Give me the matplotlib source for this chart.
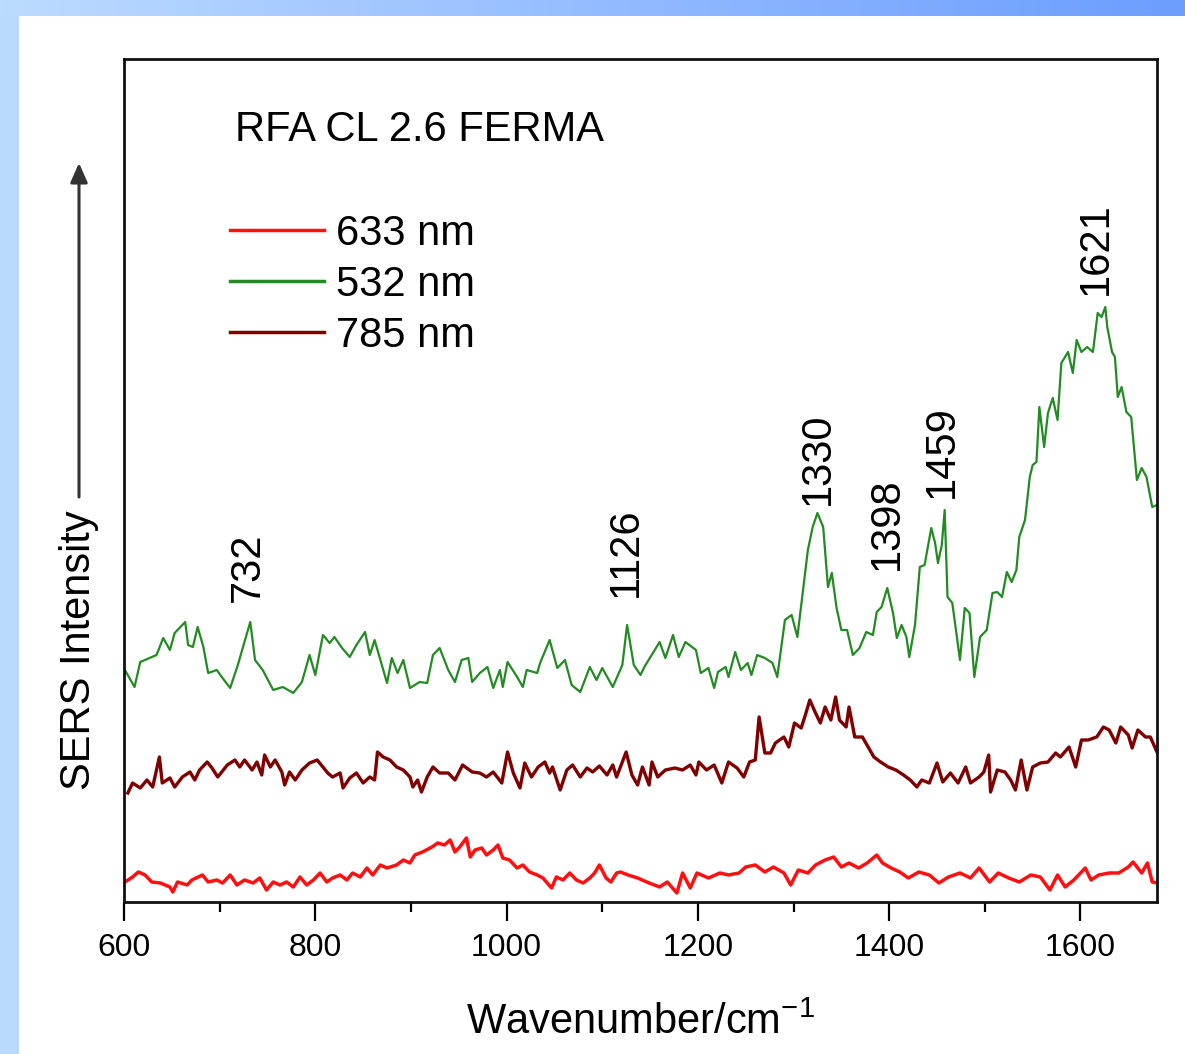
import numpy as np
import matplotlib
matplotlib.use("Agg")
import matplotlib.pyplot as plt
from matplotlib.patches import Rectangle, FancyArrowPatch

plt.rcParams['font.family'] = ['Liberation Sans', 'DejaVu Sans']
plt.rcParams['mathtext.fontset'] = 'custom'
plt.rcParams['mathtext.rm'] = 'Liberation Sans'
plt.rcParams['mathtext.it'] = 'Liberation Sans:italic'

# ---------------- data (arbitrary intensity units) ----
x_532 = [601, 611, 617, 634, 641, 648, 653, 664, 667, 672, 677, 683, 688, 697, 703, 711, 719, 732, 737, 745,
         756, 766, 777, 786, 794, 800, 808, 815, 820, 828, 836, 843, 852, 857, 862, 875, 880, 886, 892, 899,
         909, 917, 923, 930, 939, 946, 953, 960, 964, 972, 980, 986, 993, 996, 1001, 1011, 1017, 1021, 1032, 1035,
         1045, 1053, 1061, 1068, 1077, 1087, 1094, 1100, 1111, 1121, 1126, 1133, 1140, 1144, 1160, 1166, 1174, 1180, 1187, 1198,
         1203, 1211, 1217, 1221, 1229, 1232, 1239, 1245, 1252, 1256, 1262, 1270, 1278, 1283, 1291, 1298, 1304, 1310, 1315, 1320,
         1325, 1331, 1336, 1340, 1345, 1350, 1356, 1362, 1369, 1376, 1383, 1387, 1392, 1398, 1404, 1408, 1413, 1418, 1421, 1427,
         1432, 1437, 1444, 1448, 1451, 1455, 1458, 1461, 1466, 1474, 1479, 1484, 1489, 1495, 1502, 1508, 1513, 1518, 1523, 1528,
         1533, 1536, 1542, 1547, 1550, 1554, 1557, 1562, 1566, 1571, 1576, 1580, 1587, 1592, 1596, 1601, 1607, 1613, 1618, 1622,
         1626, 1628, 1633, 1636, 1639, 1643, 1648, 1653, 1659, 1664, 1669, 1675, 1680]
y_532 = [232, 215, 240, 247, 264, 252, 269, 280, 257, 255, 275, 255, 229, 232, 224, 214, 237, 280, 242, 232,
         212, 215, 209, 220, 247, 227, 267, 259, 265, 254, 245, 257, 270, 247, 262, 219, 244, 229, 242, 214,
         220, 219, 247, 254, 232, 220, 242, 244, 220, 229, 235, 214, 232, 215, 240, 225, 215, 232, 229, 239,
         262, 234, 242, 217, 210, 235, 222, 234, 215, 237, 277, 237, 227, 235, 260, 244, 267, 245, 260, 252,
         229, 234, 214, 230, 235, 225, 250, 232, 239, 227, 247, 244, 239, 225, 282, 287, 265, 312, 352, 375,
         389, 375, 315, 329, 294, 272, 272, 247, 254, 270, 267, 290, 295, 314, 289, 264, 277, 265, 245, 277,
         335, 337, 374, 359, 339, 357, 392, 305, 299, 242, 294, 289, 225, 265, 272, 309, 310, 305, 330, 320,
         332, 365, 382, 425, 437, 440, 495, 455, 489, 504, 482, 539, 550, 529, 562, 550, 555, 550, 589, 585,
         595, 575, 550, 545, 505, 515, 490, 485, 422, 434, 425, 395, 397]

x_785 = [604, 609, 617, 624, 630, 637, 640, 648, 653, 661, 669, 674, 679, 687, 692, 698, 708, 716, 721, 726,
         734, 739, 744, 747, 753, 758, 765, 768, 773, 779, 786, 794, 802, 808, 813, 818, 826, 829, 836, 843,
         850, 857, 862, 865, 871, 878, 885, 892, 899, 902, 907, 911, 917, 923, 930, 939, 946, 954, 964, 972,
         979, 986, 995, 1001, 1007, 1014, 1019, 1026, 1033, 1040, 1045, 1048, 1056, 1063, 1069, 1077, 1084, 1090, 1097, 1105,
         1111, 1115, 1125, 1131, 1137, 1142, 1149, 1152, 1158, 1166, 1176, 1184, 1192, 1198, 1201, 1209, 1217, 1225, 1232, 1241,
         1248, 1254, 1260, 1264, 1270, 1276, 1281, 1290, 1295, 1301, 1308, 1313, 1317, 1323, 1328, 1333, 1339, 1344, 1348, 1355,
         1358, 1364, 1372, 1378, 1384, 1391, 1399, 1407, 1415, 1422, 1429, 1434, 1442, 1450, 1456, 1464, 1472, 1480, 1485, 1494,
         1499, 1504, 1506, 1513, 1521, 1527, 1532, 1538, 1544, 1550, 1558, 1566, 1574, 1579, 1588, 1595, 1601, 1608, 1617, 1624,
         1630, 1637, 1642, 1650, 1654, 1660, 1668, 1673, 1680]
y_785 = [109, 119, 114, 122, 115, 145, 119, 124, 115, 125, 130, 122, 132, 140, 134, 125, 137, 142, 135, 142,
         132, 140, 127, 147, 135, 142, 130, 117, 130, 122, 132, 139, 142, 135, 129, 125, 129, 114, 124, 129,
         119, 125, 122, 150, 145, 142, 135, 132, 125, 115, 122, 110, 125, 135, 129, 129, 122, 137, 130, 129,
         125, 130, 119, 150, 129, 114, 139, 125, 135, 140, 129, 135, 112, 132, 137, 125, 134, 130, 136, 127,
         137, 125, 150, 127, 117, 135, 117, 140, 125, 132, 134, 132, 137, 127, 140, 132, 137, 119, 140, 134,
         125, 140, 142, 185, 149, 149, 159, 165, 155, 179, 174, 189, 202, 189, 179, 195, 182, 205, 182, 175,
         195, 165, 165, 155, 145, 140, 135, 132, 127, 122, 115, 122, 119, 139, 120, 129, 119, 135, 119, 125,
         130, 147, 110, 132, 130, 122, 112, 142, 112, 135, 139, 140, 149, 145, 155, 135, 162, 162, 165, 175,
         172, 159, 175, 167, 154, 172, 165, 165, 150]

x_633 = [601, 609, 615, 622, 629, 638, 648, 651, 656, 666, 671, 682, 688, 697, 703, 711, 718, 726, 735, 742,
         749, 756, 763, 770, 777, 784, 791, 798, 805, 812, 818, 826, 833, 839, 847, 854, 860, 868, 875, 885,
         892, 899, 904, 912, 922, 928, 935, 941, 946, 951, 958, 962, 967, 974, 979, 986, 991, 996, 1003, 1011,
         1017, 1024, 1032, 1038, 1047, 1052, 1059, 1066, 1073, 1080, 1087, 1092, 1097, 1104, 1109, 1115, 1119, 1127, 1137, 1149,
         1160, 1168, 1178, 1184, 1192, 1199, 1211, 1223, 1232, 1243, 1250, 1260, 1270, 1279, 1290, 1297, 1305, 1315, 1323, 1333,
         1342, 1350, 1358, 1368, 1377, 1387, 1393, 1402, 1411, 1420, 1431, 1442, 1452, 1462, 1474, 1485, 1494, 1505, 1514, 1525,
         1536, 1548, 1558, 1568, 1576, 1584, 1593, 1605, 1611, 1619, 1630, 1640, 1650, 1655, 1664, 1670, 1675, 1680]
y_633 = [20, 25, 30, 27, 20, 19, 15, 10, 20, 17, 22, 27, 20, 22, 19, 27, 17, 22, 19, 24,
         12, 20, 17, 20, 15, 25, 17, 22, 29, 20, 24, 27, 22, 29, 25, 34, 27, 37, 34, 37,
         42, 39, 47, 50, 55, 59, 57, 62, 50, 55, 64, 45, 52, 54, 47, 52, 57, 44, 42, 34,
         37, 30, 27, 24, 14, 25, 22, 29, 22, 19, 24, 29, 37, 24, 20, 29, 30, 27, 24, 19,
         15, 20, 9, 29, 14, 29, 24, 29, 27, 29, 35, 37, 30, 35, 29, 17, 32, 29, 37, 42,
         45, 35, 39, 34, 39, 47, 39, 34, 30, 24, 30, 27, 19, 25, 29, 24, 34, 20, 29, 24,
         20, 27, 25, 12, 27, 15, 22, 34, 22, 27, 29, 29, 35, 40, 29, 39, 20, 19]

series_labels = ['633 nm', '532 nm', '785 nm']
series_colors = ['#ff1010', '#228b22', '#800000']

peak_labels = ['732', '1126', '1330', '1398', '1459', '1621']
peak_x = [730, 1125, 1325, 1398, 1455, 1616]
peak_y = [300, 305, 397, 332, 404, 607]

xticks_major = [600, 800, 1000, 1200, 1400, 1600]
xticks_minor = [700, 900, 1100, 1300, 1500]

# ---------------- figure ----------------
W, H = 1185, 1054
fig = plt.figure(figsize=(W / 100, H / 100), dpi=100)
fig.patch.set_facecolor('white')

# blue decorative frame
band = fig.add_axes([0, 1 - 16 / H, 1, 16 / H])
grad = np.linspace(0, 1, 256)
c0 = np.array([188, 219, 255]) / 255
c1 = np.array([108, 157, 255]) / 255
img = (c0[None, :] * (1 - grad[:, None]) + c1[None, :] * grad[:, None])[None, :, :]
band.imshow(img, aspect='auto', extent=[0, 1, 0, 1])
band.set_axis_off()
fig.add_artist(Rectangle((0, 0), 19 / W, 1 - 16 / H, transform=fig.transFigure,
                         facecolor=(186 / 255, 217 / 255, 255 / 255), edgecolor='none'))

ax = fig.add_axes([124 / W, (H - 902) / H, (1157 - 124) / W, (902 - 59) / H])

ax.plot(x_633, y_633, color=series_colors[0], lw=2.5, label=series_labels[0])
ax.plot(x_532, y_532, color=series_colors[1], lw=1.6, label=series_labels[1])
ax.plot(x_785, y_785, color=series_colors[2], lw=2.4, label=series_labels[2])

ax.set_xlim(600, 1680)
ax.set_ylim(0, 843)
ax.set_yticks([])
ax.set_xticks(xticks_major)
ax.set_xticks(xticks_minor, minor=True)
ax.tick_params(axis='x', which='major', direction='out', length=14, width=1.6,
               labelsize=23, pad=8, colors='black')
ax.tick_params(axis='x', which='minor', direction='out', length=7, width=1.6)
for s in ax.spines.values():
    s.set_linewidth(2.0)
    s.set_color('#111111')

ax.set_xlabel('Wavenumber/cm$^{-1}$', fontsize=30, labelpad=29)

fig.text(79 / W, (H - 650) / H, 'SERS Intensity', rotation=90, fontsize=30,
         ha='center', va='center')
fig.add_artist(FancyArrowPatch(
    (79 / W, (H - 497) / H), (79 / W, (H - 163) / H), transform=fig.transFigure,
    arrowstyle='-|>,head_length=0.9,head_width=0.4', mutation_scale=13,
    shrinkA=0, shrinkB=0, color='#333333', lw=2.2))

ax.text((235 - 124) / (1157 - 124), (902 - 130) / 843, 'RFA CL 2.6 FERMA',
        transform=ax.transAxes, fontsize=30, ha='left', va='center')

for lab, px, py in zip(peak_labels, peak_x, peak_y):
    ax.text(px, py, lab, rotation=90, fontsize=30, ha='center', va='bottom')

leg = ax.legend(loc='upper left', bbox_to_anchor=(230 / W, (H - 214) / H),
                bbox_transform=fig.transFigure, frameon=False, fontsize=30,
                handlelength=2.25, handletextpad=0.3, labelspacing=0.26,
                borderpad=0, borderaxespad=0)
for l in leg.get_lines():
    l.set_linewidth(2.5)

fig.savefig('out.png', dpi=100, facecolor=fig.get_facecolor())
